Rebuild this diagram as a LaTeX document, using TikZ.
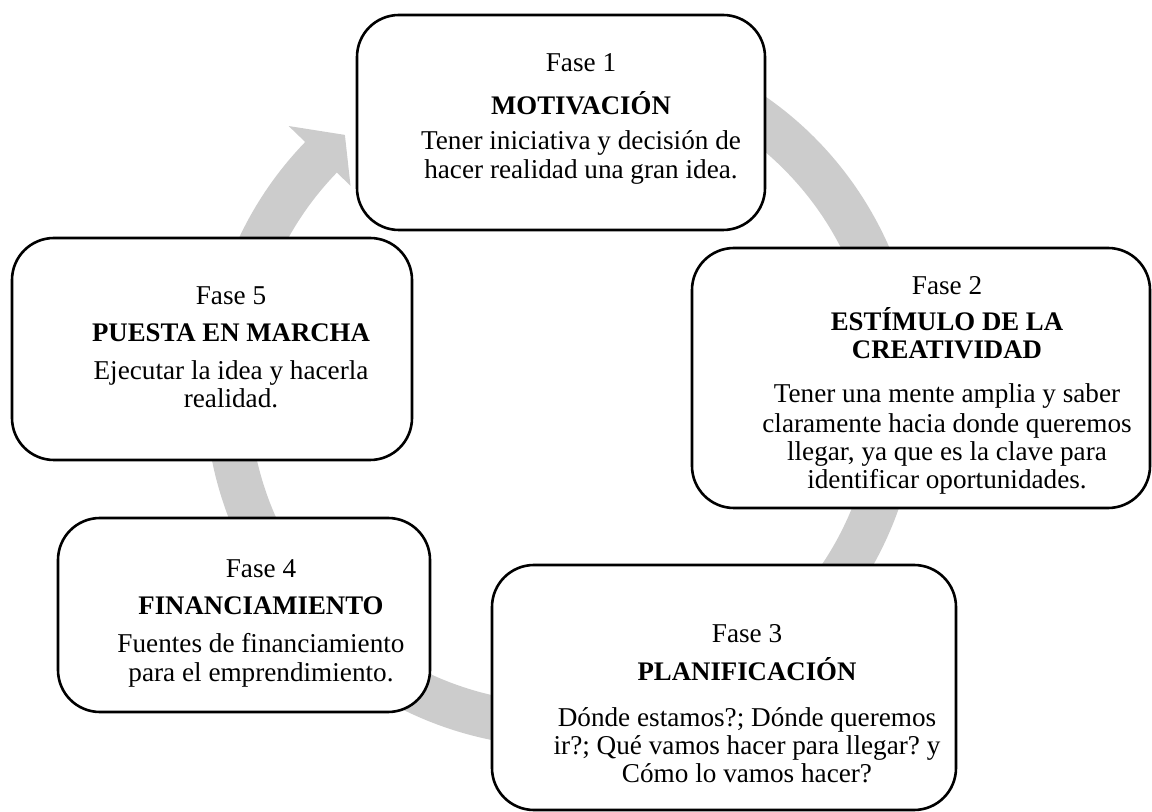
\documentclass[tikz,border=0pt]{standalone}
\usepackage{fontspec}
\setmainfont{Liberation Serif}
\frenchspacing
\definecolor{ringgray}{RGB}{204,204,204}
\tikzset{
  phasebox/.style={draw=black, line width=1.3pt, fill=white, rounded corners=21pt, inner sep=0pt},
  txt/.style={anchor=base, inner sep=0pt, font=\fontsize{13.6}{15}\selectfont},
  ttl/.style={anchor=base, inner sep=0pt, font=\fontsize{13.4}{15}\selectfont\bfseries}
}
\begin{document}
\begin{tikzpicture}[x=0.5pt,y=-0.5pt]
\useasboundingbox (0,0) rectangle (1152,812);
% cycle ring with arrowhead
\begin{scope}[shift={(562,390)}]
\fill[ringgray] (120:178.5pt) arc[start angle=120, end angle=-224, radius=178.5pt]
  -- (-224:190pt) -- (-229.6:167.5pt) -- (-224:147pt) -- (-224:156.5pt)
  arc[start angle=-224, end angle=120, radius=156.5pt] -- cycle;
\end{scope}
% boxes
\node[phasebox, minimum width=204pt, minimum height=107.5pt] (b1) at (561,122.5) {};
\node[phasebox, minimum width=229pt, minimum height=130pt] (b2) at (921,378) {};
\node[phasebox, minimum width=232pt, minimum height=122.5pt] (b3) at (724,687.5) {};
\node[phasebox, minimum width=186pt, minimum height=97pt] (b4) at (244,615) {};
\node[phasebox, minimum width=200pt, minimum height=111pt] (b5) at (212,349) {};
% Fase 1
\node[txt] (t1a) at (581,72) {Fase 1};
\node[ttl] (t1b) at (581,115) {MOTIVACIÓN};
\node[txt] (t1c) at (581,150) {Tener iniciativa y decisión de};
\node[txt] (t1d) at (581,179) {hacer realidad una gran idea.};
% Fase 2
\node[txt] (t2a) at (947,295) {Fase 2};
\node[ttl] (t2b) at (947,331) {ESTÍMULO DE LA};
\node[ttl] (t2c) at (947,359) {CREATIVIDAD};
\node[txt] (t2d) at (947,403) {Tener una mente amplia y saber};
\node[txt] (t2e) at (947,433) {claramente hacia donde queremos};
\node[txt] (t2f) at (947,461) {llegar, ya que es la clave para};
\node[txt] (t2g) at (947,489) {identificar oportunidades.};
% Fase 3
\node[txt] (t3a) at (747,642) {Fase 3};
\node[ttl] (t3b) at (747,681) {PLANIFICACIÓN};
\node[txt] (t3c) at (747,726) {Dónde estamos?; Dónde queremos};
\node[txt] (t3d) at (747,754) {ir?; Qué vamos hacer para llegar? y};
\node[txt] (t3e) at (747,782) {Cómo lo vamos hacer?};
% Fase 4
\node[txt] (t4a) at (261,578) {Fase 4};
\node[ttl] (t4b) at (261,615) {FINANCIAMIENTO};
\node[txt] (t4c) at (261,653) {Fuentes de financiamiento};
\node[txt] (t4d) at (261,682) {para el emprendimiento.};
% Fase 5
\node[txt] (t5a) at (231,305) {Fase 5};
\node[ttl] (t5b) at (231,342) {PUESTA EN MARCHA};
\node[txt] (t5c) at (231,380) {Ejecutar la idea y hacerla};
\node[txt] (t5d) at (231,408) {realidad.};
\end{tikzpicture}
\end{document}
